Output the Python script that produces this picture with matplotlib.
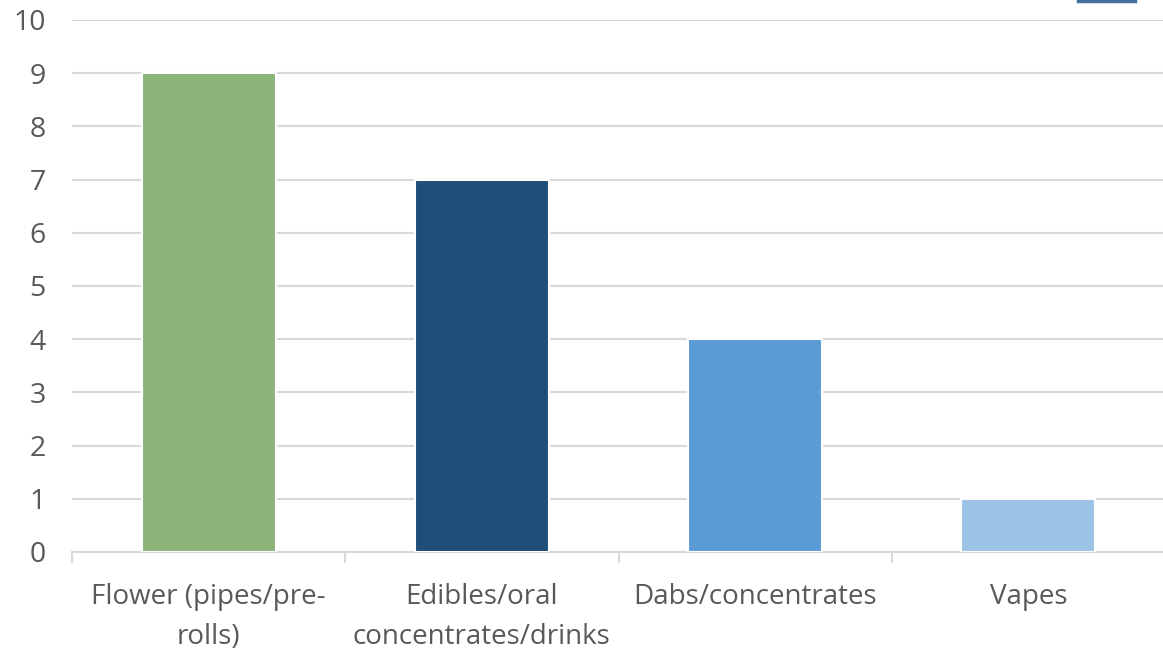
import numpy as np
import matplotlib.pyplot as plt
from matplotlib.lines import Line2D

# данные
categories = ['Flower (pipes/pre-\nrolls)', 'Edibles/oral\nconcentrates/drinks',
              'Dabs/concentrates', 'Vapes']
values = [9, 7, 4, 1]
colors = ['#8CB47B', '#1F4E79', '#5B9BD5', '#9DC3E6']

plt.rcParams['font.family'] = ['Open Sans', 'DejaVu Sans']

fig = plt.figure(figsize=(11.63, 6.48), dpi=100)
ax = fig.add_axes([72/1163, 1 - 552/648, 1093/1163, 532/648])

x = np.arange(len(categories))
ax.bar(x, values, width=0.49, color=colors, edgecolor='white', linewidth=1.5, zorder=3)

ax.set_xlim(-0.5, len(categories) - 0.5)
ax.set_ylim(0, 10)
ax.set_yticks(range(0, 11))
ax.set_xticks(x)
ax.set_xticklabels(categories, linespacing=1.55)
ax.set_xticks(np.arange(-0.5, len(categories)), minor=True)

ax.grid(axis='y', color='#d9d9d9', linewidth=1.5, zorder=0)
for s in ['top', 'right', 'left']:
    ax.spines[s].set_visible(False)
ax.spines['bottom'].set_color('#d9d9d9')
ax.spines['bottom'].set_linewidth(1.5)

ax.tick_params(axis='y', length=0, pad=19, labelsize=20.5, labelcolor='#595959')
ax.tick_params(axis='x', which='major', length=0, pad=22.5, labelsize=20, labelcolor='#595959')
ax.tick_params(axis='x', which='minor', length=8, width=1.5, color='#d9d9d9', direction='out')

# обрезанный кусок легенды сверху справа
fig.add_artist(Line2D([1078/1163, 1135/1163], [1 - 1/648, 1 - 1/648],
                      color='#41719C', linewidth=2.5, transform=fig.transFigure))

fig.savefig('out.png', dpi=100)
